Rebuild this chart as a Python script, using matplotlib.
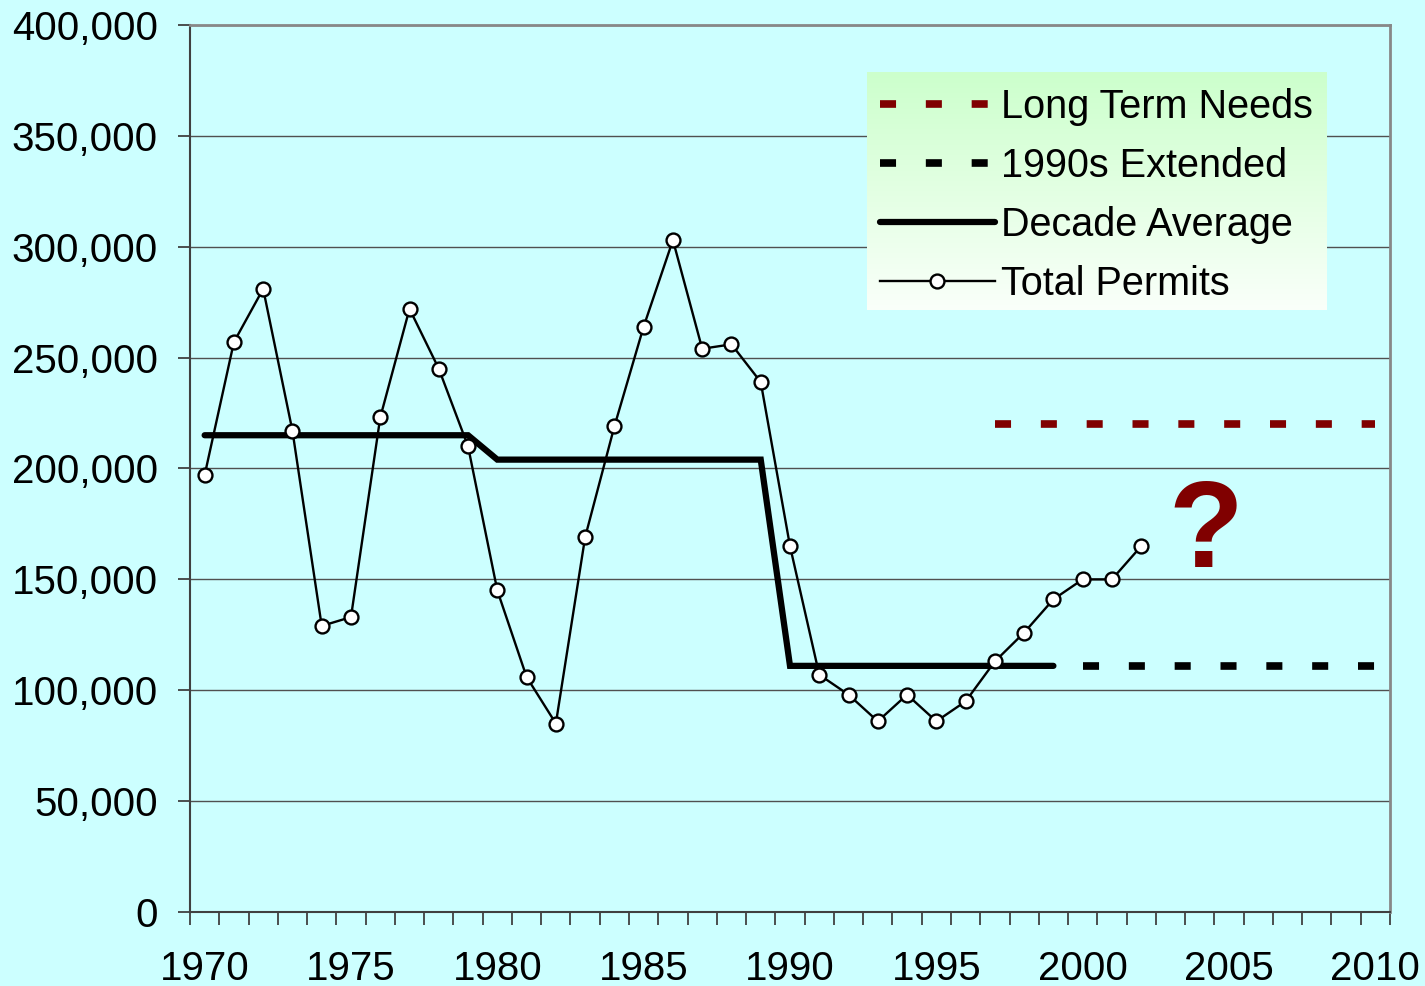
import matplotlib
matplotlib.use('Agg')
import matplotlib.pyplot as plt
from matplotlib.ticker import FuncFormatter, MultipleLocator
import numpy as np

plt.rcParams['font.family'] = ['Liberation Sans', 'DejaVu Sans']

# total building permits per year
years = list(range(1970, 2003))
permits = [197000, 257000, 281000, 217000, 129000, 133000, 223000, 272000, 245000, 210000,
           145000, 106000, 85000, 169000, 219000, 264000, 303000, 254000, 256000, 239000,
           165000, 107000, 98000, 86000, 98000, 86000, 95000, 113000, 126000, 141000,
           150000, 150000, 165000]

decade_years = [1970, 1979, 1980, 1989, 1990, 1999]
decade_avg = [215000, 215000, 204000, 204000, 111000, 111000]

ext_years = [2000, 2010]
ext_vals = [111000, 111000]

need_years = [1997, 2010]
need_vals = [220000, 220000]

bg = '#ccffff'
dred = '#800000'

fig = plt.figure(figsize=(14.25, 9.86), dpi=100, facecolor=bg)
ax = fig.add_axes([190/1425, 74/986, 1200/1425, 887/986])
ax.set_facecolor(bg)

ax.plot(need_years, need_vals, color=dred, lw=5.5, dashes=(2.1, 3.9),
        dash_capstyle='butt', label='Long Term Needs', zorder=3)
ax.plot(ext_years, ext_vals, color='black', lw=5.5, dashes=(2.1, 3.9),
        dash_capstyle='butt', label='1990s Extended', zorder=3)
ax.plot(decade_years, decade_avg, color='black', lw=4.5, solid_capstyle='round',
        solid_joinstyle='miter', label='Decade Average', zorder=3)
ax.plot(years, permits, color='black', lw=1.7, marker='o', ms=10, mfc='white',
        mec='black', mew=1.7, label='Total Permits', zorder=4)

ax.text(2004.2, 170000, '?', color=dred, fontsize=88, fontweight='bold',
        ha='center', va='center')

ax.set_xlim(1969.5, 2010.5)
ax.set_ylim(0, 400000)
ax.yaxis.set_major_locator(MultipleLocator(50000))
ax.yaxis.set_major_formatter(FuncFormatter(lambda v, p: f'{v:,.0f}'))
ax.set_xticks(range(1970, 2011, 5))
ax.set_xticks(np.arange(1969.5, 2011, 1.0), minor=True)
ax.tick_params(axis='x', which='major', length=0, pad=27, labelsize=29)
ax.tick_params(axis='x', which='minor', length=9, width=1.3, color='#404040')
ax.tick_params(axis='y', length=9, width=1.3, color='#404040', pad=14, labelsize=29)

ax.set_axisbelow(True)
ax.yaxis.grid(True, color='#505050', lw=1)
for s in ['left', 'bottom']:
    ax.spines[s].set_color('#404040')
    ax.spines[s].set_linewidth(1.5)
for s in ['top', 'right']:
    ax.spines[s].set_color('#888888')
    ax.spines[s].set_linewidth(2)

# green-to-white legend box
grad = np.linspace(0, 1, 256).reshape(-1, 1)
top = np.array([0.80, 1.0, 0.80])
bot = np.array([0.98, 1.0, 0.98])
img = top + grad[..., None] * (bot - top)
ax.imshow(img, extent=[(867-190)/1200, (1327-190)/1200, (912-310)/887, (912-72)/887],
          transform=ax.transAxes, aspect='auto', zorder=5)
ax.set_xlim(1969.5, 2010.5)
ax.set_ylim(0, 400000)

leg = ax.legend(loc='upper left', bbox_to_anchor=((880-190)/1200, (912-88)/887),
                frameon=False, fontsize=28.5, handlelength=2.9, handletextpad=0.16,
                labelspacing=0.53, borderpad=0, borderaxespad=0)
leg.set_zorder(6)

fig.savefig('out.png', dpi=100, facecolor=bg)
